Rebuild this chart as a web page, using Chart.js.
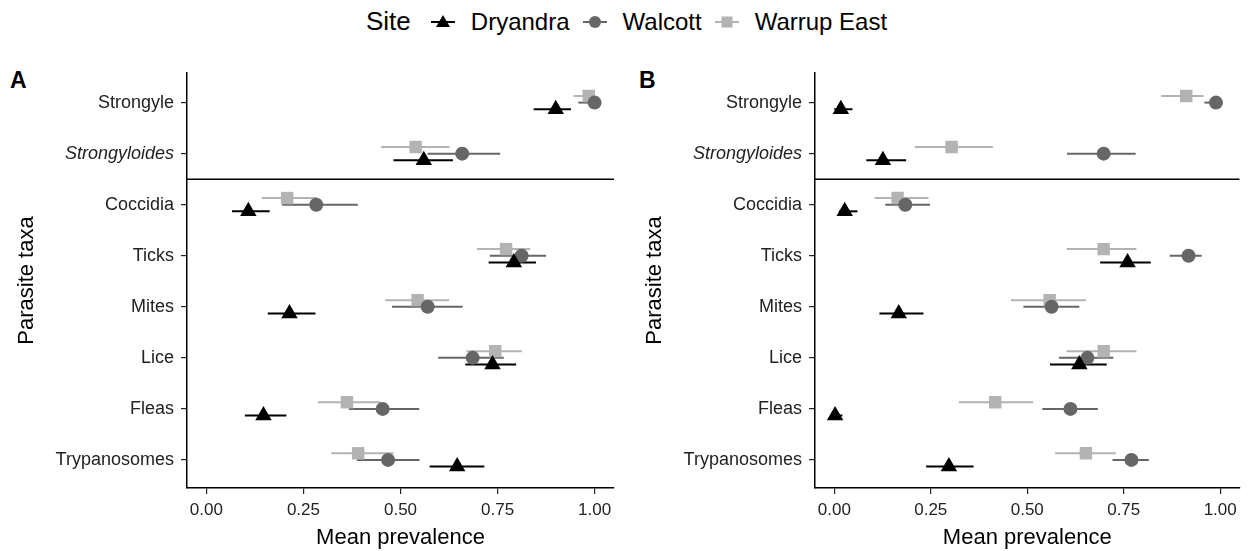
<!DOCTYPE html>
<html>
<head>
<meta charset="utf-8">
<script src="https://cdn.jsdelivr.net/npm/chart.js@4.4.1/dist/chart.umd.min.js"></script>
<style>
  html, body { margin:0; padding:0; background:#fff; }
  body { width:1249px; height:551px; position:relative; overflow:hidden; font-family:'Liberation Sans', Arial, sans-serif; }
  canvas { position:absolute; left:0; top:0; }
  .panel { position:absolute; font-weight:bold; font-size:23px; color:#000; }
  #legend { position:absolute; top:6px; left:366px; display:flex; align-items:center; color:#000; white-space:nowrap; }
  #legend .title { font-size:26px; margin-right:20px; }
  #legend .item { display:flex; align-items:center; font-size:24px; margin-right:13px; }
  #legend svg { margin-right:16px; }
</style>
</head>
<body>
<div id="legend">
  <span class="title">Site</span>
  <span class="item"><svg width="24" height="20"><line x1="0" y1="10" x2="24" y2="10" stroke="#000" stroke-width="2"/><polygon points="12,3 19,15 5,15" fill="#000"/></svg>Dryandra</span>
  <span class="item"><svg width="24" height="20"><line x1="0" y1="10" x2="24" y2="10" stroke="#666" stroke-width="2"/><circle cx="12" cy="10" r="6" fill="#666"/></svg>Walcott</span>
  <span class="item"><svg width="24" height="20"><line x1="0" y1="10" x2="24" y2="10" stroke="#b3b3b3" stroke-width="2"/><rect x="6.5" y="4.5" width="11" height="11" fill="#b3b3b3"/></svg>Warrup East</span>
</div>
<div class="panel" style="left:10px;top:67px;">A</div>
<div class="panel" style="left:639px;top:67px;">B</div>
<canvas id="chartA" width="1249" height="551"></canvas>
<canvas id="chartB" width="1249" height="551"></canvas>
<script>
// ---------------- DATA ----------------
const categories = ["Strongyle", "Strongyloides", "Coccidia", "Ticks", "Mites", "Lice", "Fleas", "Trypanosomes"];
const italicCategories = ["Strongyloides"];
const sites = ["Dryandra", "Walcott", "Warrup East"];
const xTickValues = [0, 0.25, 0.5, 0.75, 1.0];
const xTickLabels = ["0.00", "0.25", "0.50", "0.75", "1.00"];

// Panel A
const A_Dryandra_mean = [0.900, 0.560, 0.108, 0.792, 0.214, 0.737, 0.147, 0.646];
const A_Dryandra_lo   = [0.843, 0.482, 0.066, 0.727, 0.158, 0.667, 0.099, 0.575];
const A_Dryandra_hi   = [0.939, 0.635, 0.163, 0.849, 0.281, 0.798, 0.206, 0.716];
const A_Walcott_mean  = [1.000, 0.659, 0.283, 0.812, 0.570, 0.686, 0.454, 0.468];
const A_Walcott_lo    = [0.958, 0.570, 0.195, 0.730, 0.478, 0.597, 0.367, 0.388];
const A_Walcott_hi    = [1.000, 0.757, 0.390, 0.875, 0.660, 0.766, 0.548, 0.549];
const A_Warrup_mean   = [0.985, 0.539, 0.208, 0.772, 0.544, 0.744, 0.362, 0.391];
const A_Warrup_lo     = [0.946, 0.450, 0.143, 0.697, 0.461, 0.670, 0.287, 0.322];
const A_Warrup_hi     = [1.000, 0.626, 0.285, 0.834, 0.625, 0.813, 0.448, 0.482];

// Panel B
const B_Dryandra_mean = [0.017, 0.126, 0.027, 0.760, 0.167, 0.635, 0.002, 0.297];
const B_Dryandra_lo   = [0.000, 0.083, 0.012, 0.689, 0.117, 0.559, 0.000, 0.238];
const B_Dryandra_hi   = [0.047, 0.186, 0.060, 0.820, 0.231, 0.706, 0.021, 0.361];
const B_Walcott_mean  = [0.989, 0.698, 0.184, 0.918, 0.563, 0.656, 0.612, 0.770];
const B_Walcott_lo    = [0.959, 0.603, 0.132, 0.869, 0.490, 0.582, 0.539, 0.721];
const B_Walcott_hi    = [1.000, 0.781, 0.248, 0.952, 0.635, 0.723, 0.683, 0.815];
const B_Warrup_mean   = [0.912, 0.304, 0.164, 0.698, 0.558, 0.698, 0.417, 0.652];
const B_Warrup_lo     = [0.847, 0.209, 0.104, 0.602, 0.458, 0.602, 0.323, 0.572];
const B_Warrup_hi     = [0.957, 0.411, 0.244, 0.783, 0.652, 0.783, 0.515, 0.729];

// ---------------- STYLE ----------------
const FONT = "'Liberation Sans', Arial, sans-serif";
Chart.defaults.font.family = FONT;
const siteStyle = {
  "Dryandra":    { color: "#000000", shape: "triangle", radius: 9.5, dodge: 0.13 },
  "Walcott":     { color: "#666666", shape: "circle",   radius: 7,   dodge: 0 },
  "Warrup East": { color: "#b3b3b3", shape: "rect",     radius: 8.8, dodge: -0.13 }
};

function makeDataset(site, mean, lo, hi) {
  const st = siteStyle[site];
  return {
    label: site,
    data: mean.map((v, i) => ({ x: v, y: i + st.dodge })),
    lo: lo, hi: hi,
    pointStyle: st.shape,
    pointRadius: st.radius,
    pointBackgroundColor: st.color,
    pointBorderColor: st.color,
    pointBorderWidth: 0,
    errColor: st.color,
    showLine: false
  };
}

const errorBarPlugin = {
  id: 'errorBars',
  beforeDatasetsDraw(chart) {
    const ctx = chart.ctx, xs = chart.scales.x, ys = chart.scales.y;
    const area = chart.chartArea;
    ctx.save();
    // separator between helminths and other taxa
    const yy = ys.getPixelForValue(1.5);
    ctx.strokeStyle = "#000"; ctx.lineWidth = 1.5;
    ctx.beginPath(); ctx.moveTo(area.left, yy); ctx.lineTo(area.right, yy); ctx.stroke();
    chart.data.datasets.forEach(ds => {
      ctx.strokeStyle = ds.errColor; ctx.lineWidth = 2;
      ds.data.forEach((p, i) => {
        const y = ys.getPixelForValue(p.y);
        ctx.beginPath();
        ctx.moveTo(xs.getPixelForValue(ds.lo[i]), y);
        ctx.lineTo(xs.getPixelForValue(ds.hi[i]), y);
        ctx.stroke();
      });
    });
    ctx.restore();
  }
};

function makeChart(id, datasets, padLeft, padRight) {
  return new Chart(document.getElementById(id), {
    type: 'scatter',
    data: { datasets: datasets },
    options: {
      responsive: false, animation: false, devicePixelRatio: 1,
      layout: { padding: { left: padLeft, right: padRight, top: 73, bottom: 0 } },
      plugins: { legend: { display: false }, tooltip: { enabled: false } },
      scales: {
        x: {
          type: 'linear', min: -0.05, max: 1.05,
          afterBuildTicks: s => { s.ticks = xTickValues.map(v => ({ value: v })); },
          afterFit: s => { s.height = 63; },
          ticks: {
            callback: (v) => xTickLabels[xTickValues.indexOf(v)],
            color: "#222", font: { size: 17 }, padding: 6, maxRotation: 0
          },
          grid: { display: true, drawOnChartArea: false, drawTicks: true, tickLength: 6, color: "#222", lineWidth: 1.2 },
          border: { display: true, color: "#000", width: 1.5 },
          title: { display: true, text: "Mean prevalence", color: "#000", font: { size: 22 }, padding: { top: 0, bottom: 0 } }
        },
        y: {
          type: 'linear', min: -0.58, max: 7.55, reverse: true,
          afterBuildTicks: s => { s.ticks = categories.map((c, i) => ({ value: i })); },
          afterFit: s => { s.width = 187; },
          ticks: {
            callback: (v) => categories[v],
            color: "#222",
            font: (c) => ({ size: 18, family: FONT, style: (c.tick && italicCategories.includes(categories[c.tick.value])) ? 'italic' : 'normal' }),
            padding: 7
          },
          grid: { display: true, drawOnChartArea: false, drawTicks: true, tickLength: 6, color: "#222", lineWidth: 1.2 },
          border: { display: true, color: "#000", width: 1.5 },
          title: { display: true, text: "Parasite taxa", color: "#000", font: { size: 22 }, padding: { top: 14, bottom: 14 } }
        }
      }
    },
    plugins: [errorBarPlugin]
  });
}

makeChart('chartA', [
  makeDataset("Dryandra", A_Dryandra_mean, A_Dryandra_lo, A_Dryandra_hi),
  makeDataset("Walcott", A_Walcott_mean, A_Walcott_lo, A_Walcott_hi),
  makeDataset("Warrup East", A_Warrup_mean, A_Warrup_lo, A_Warrup_hi)
], 0, 1249 - 614);

makeChart('chartB', [
  makeDataset("Dryandra", B_Dryandra_mean, B_Dryandra_lo, B_Dryandra_hi),
  makeDataset("Walcott", B_Walcott_mean, B_Walcott_lo, B_Walcott_hi),
  makeDataset("Warrup East", B_Warrup_mean, B_Warrup_lo, B_Warrup_hi)
], 628, 8);
</script>
</body>
</html>
